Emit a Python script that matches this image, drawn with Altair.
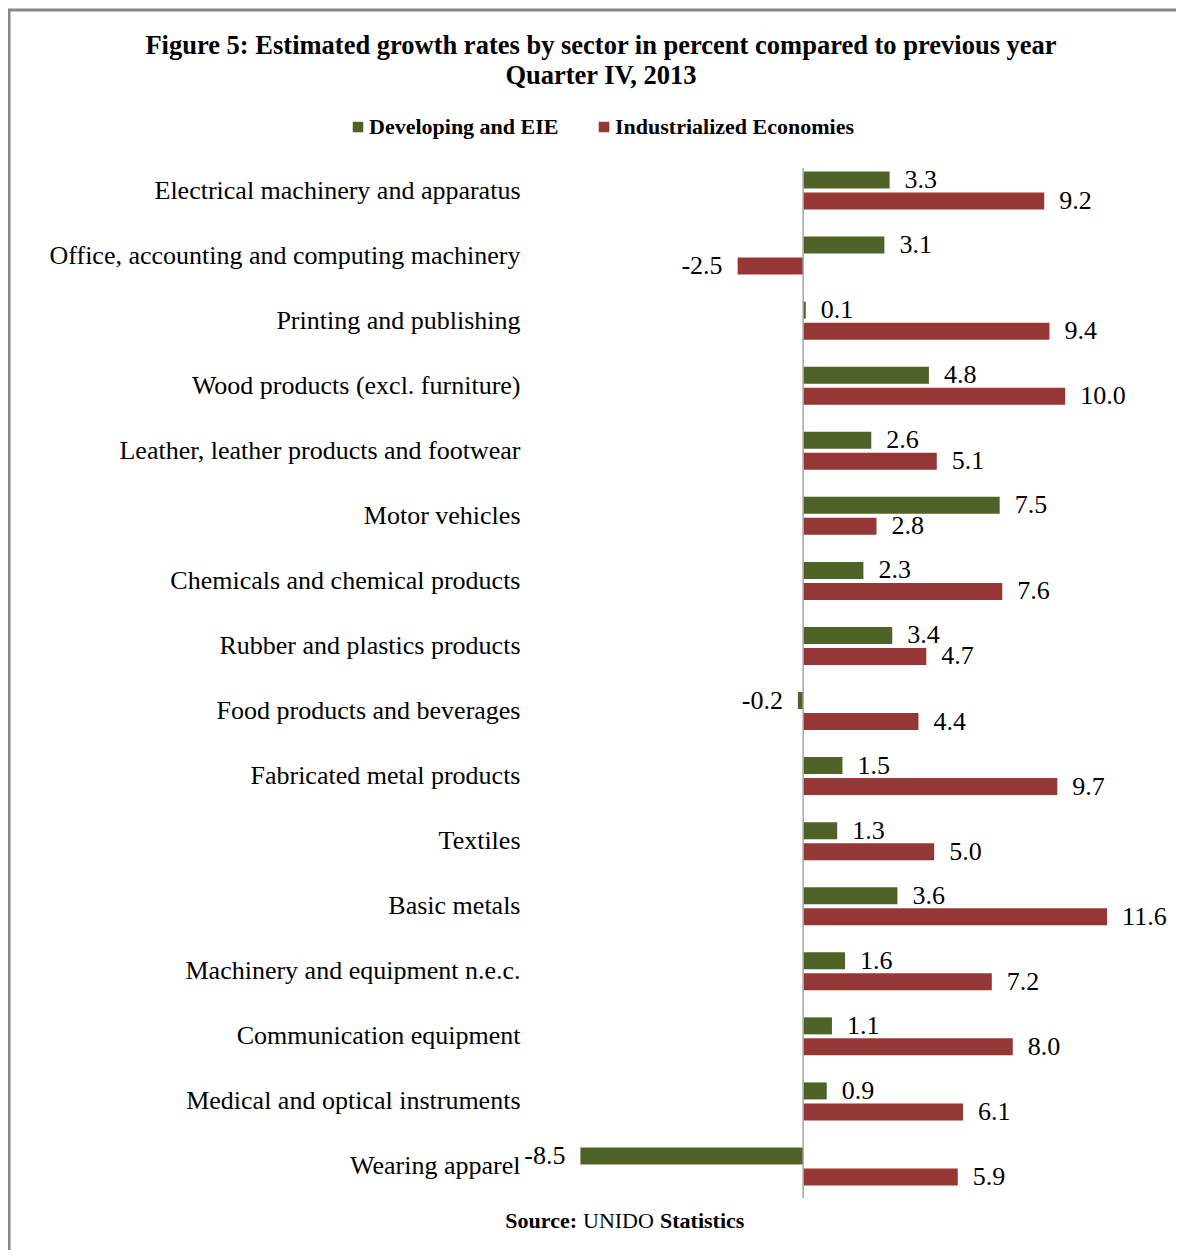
import altair as alt
import pandas as pd

sectors = [
    "Electrical machinery and apparatus",
    "Office, accounting and computing machinery",
    "Printing and publishing",
    "Wood products (excl. furniture)",
    "Leather, leather products and footwear",
    "Motor vehicles",
    "Chemicals and chemical products",
    "Rubber and plastics products",
    "Food products and beverages",
    "Fabricated metal products",
    "Textiles",
    "Basic metals",
    "Machinery and equipment n.e.c.",
    "Communication equipment",
    "Medical and optical instruments",
    "Wearing apparel",
]
developing = [3.3, 3.1, 0.1, 4.8, 2.6, 7.5, 2.3, 3.4, -0.2, 1.5, 1.3, 3.6, 1.6, 1.1, 0.9, -8.5]
industrialized = [9.2, -2.5, 9.4, 10.0, 5.1, 2.8, 7.6, 4.7, 4.4, 9.7, 5.0, 11.6, 7.2, 8.0, 6.1, 5.9]
series = ["Developing and EIE", "Industrialized Economies"]
colors = ["#4F6228", "#953735"]
title_lines = ["Figure 5: Estimated growth rates by sector in percent compared to previous year",
               "Quarter IV, 2013"]

rows = []
for s, d, i in zip(sectors, developing, industrialized):
    rows.append({"sector": s, "series": series[0], "value": d, "label": f"{d:.1f}"})
    rows.append({"sector": s, "series": series[1], "value": i, "label": f"{i:.1f}"})
df = pd.DataFrame(rows)

SERIF = "Liberation Serif"
W, H = 642, 1041

yenc = alt.Y("sector:N", sort=sectors,
             scale=alt.Scale(paddingInner=0.416, paddingOuter=0.208),
             axis=alt.Axis(title=None, domain=False, ticks=False, labelPadding=8,
                           labelLimit=700, labelFont=SERIF, labelFontSize=26,
                           labelColor="#000000"))
yoff = alt.YOffset("series:N", sort=series, scale=alt.Scale(paddingInner=0.19, paddingOuter=0))
xscale = alt.Scale(domain=[-10.5, 14], nice=False, zero=False)
xenc = alt.X("value:Q", scale=xscale, axis=None)

base = alt.Chart(df)

bars = base.mark_bar().encode(
    x=xenc, y=yenc, yOffset=yoff,
    color=alt.Color("series:N", sort=series,
                    scale=alt.Scale(domain=series, range=colors),
                    legend=alt.Legend(title=None, orient="none", legendX=-181, legendY=-42,
                                      direction="horizontal", symbolType="square",
                                      symbolSize=110, symbolStrokeWidth=0,
                                      labelFont=SERIF, labelFontSize=22, labelFontWeight="bold",
                                      labelColor="#000000", labelLimit=400,
                                      columnPadding=34, labelOffset=0)),
)

pos_labels = base.transform_filter("datum.value >= 0").mark_text(
    align="left", baseline="middle", dx=15, font=SERIF, fontSize=26, color="#000000"
).encode(x=xenc, y=yenc, yOffset=yoff, text="label:N")

neg_labels = base.transform_filter("datum.value < 0").mark_text(
    align="right", baseline="middle", dx=-15, font=SERIF, fontSize=26, color="#000000"
).encode(x=xenc, y=yenc, yOffset=yoff, text="label:N")

one = pd.DataFrame({"x": [0]})
zero_rule = alt.Chart(one).mark_rule(color="#A6A6A6", strokeWidth=1.5).encode(
    x=alt.X("x:Q", scale=xscale, axis=None),
    y=alt.value(10), y2=alt.value(H - 1),
)

frame_top = alt.Chart(one).mark_rule(color="#878787", strokeWidth=3).encode(
    x=alt.value(-520), x2=alt.value(W + 6), y=alt.value(-148))
frame_left = alt.Chart(one).mark_rule(color="#878787", strokeWidth=3).encode(
    x=alt.value(-519), y=alt.value(-149), y2=alt.value(H + 51))

t1 = alt.Chart(one).mark_text(align="center", baseline="middle", font=SERIF, fontSize=26.5,
                              fontWeight="bold", color="#000000").encode(
    x=alt.value(73), y=alt.value(-112), text=alt.value(title_lines[0]))
t2 = alt.Chart(one).mark_text(align="center", baseline="middle", font=SERIF, fontSize=26.5,
                              fontWeight="bold", color="#000000").encode(
    x=alt.value(73), y=alt.value(-82), text=alt.value(title_lines[1]))

src1 = alt.Chart(one).mark_text(align="right", baseline="middle", font=SERIF, fontSize=22,
                                fontWeight="bold", color="#000000").encode(
    x=alt.value(49), y=alt.value(H + 22), text=alt.value("Source:"))
src2 = alt.Chart(one).mark_text(align="left", baseline="middle", font=SERIF, fontSize=22,
                                color="#000000").encode(
    x=alt.value(55), y=alt.value(H + 22), text=alt.value("UNIDO"))
src3 = alt.Chart(one).mark_text(align="left", baseline="middle", font=SERIF, fontSize=22,
                                fontWeight="bold", color="#000000").encode(
    x=alt.value(132), y=alt.value(H + 22), text=alt.value("Statistics"))

chart = alt.layer(
    bars, pos_labels, neg_labels, zero_rule, frame_top, frame_left, t1, t2, src1, src2, src3
).properties(
    width=W, height=H,
    background="white",
    padding={"left": 520, "top": 150, "right": 6, "bottom": 51},
    autosize=alt.AutoSizeParams(type="none"),
).configure_view(strokeWidth=0)

chart.save("out.html", embed_options={"renderer": "svg", "actions": False})
